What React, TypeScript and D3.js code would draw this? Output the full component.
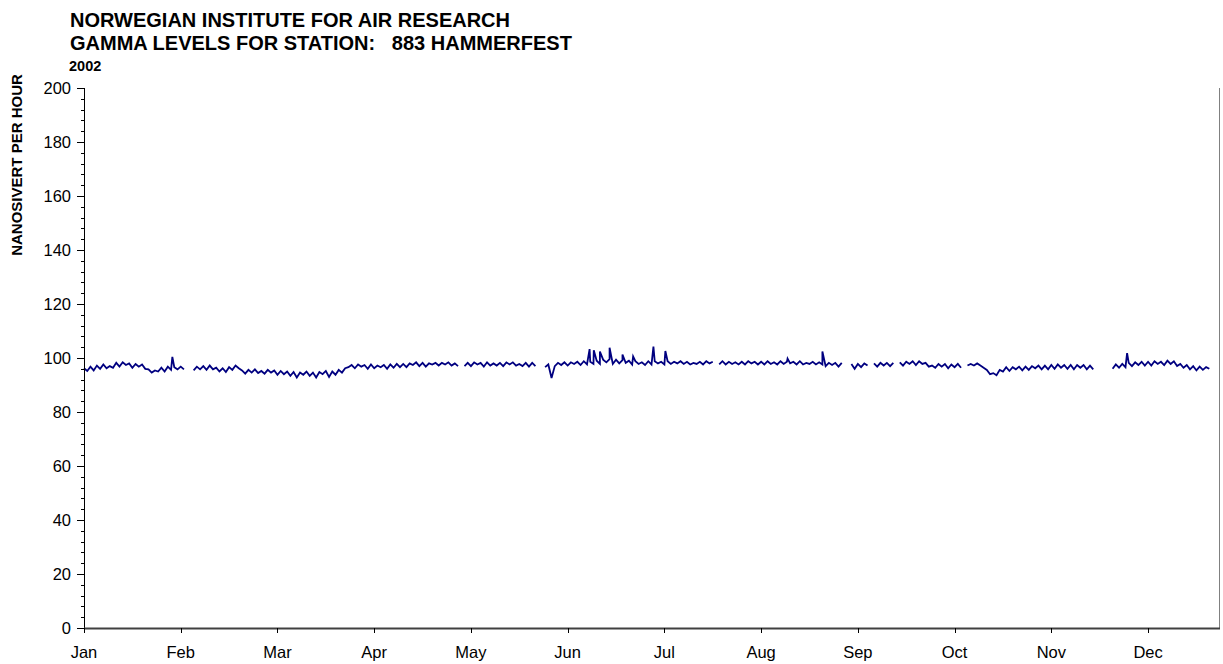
import React from "react";
import * as d3 from "d3";

const titleLines = [
  "NORWEGIAN INSTITUTE FOR AIR RESEARCH",
  "GAMMA LEVELS FOR STATION:   883 HAMMERFEST",
];
const yearLabel = "2002";
const yAxisTitle = "NANOSIVERT PER HOUR";

const months = ["Jan", "Feb", "Mar", "Apr", "May", "Jun", "Jul", "Aug", "Sep", "Oct", "Nov", "Dec"];
const monthTickDays = [0, 30, 60, 90, 120, 150, 180, 210, 240, 270, 300, 330];
const xDomain: [number, number] = [0, 352];
const yTicks = [0, 20, 40, 60, 80, 100, 120, 140, 160, 180, 200];

// daily readings (day 0 = 1 Jan), null = missing
const daily: (number | null)[] = [
  96.2, 95.2, 96.8, 95.4, 97.2, 96.0, 97.6, 96.2, 97.0, 96.4,
  98.2, 96.8, 98.4, 97.4, 98.0, 96.4, 97.8, 96.8, 97.6, 96.0,
  95.8, 94.6, 95.4, 95.0, 96.4, 95.0, 96.8, 95.6, 96.6, 95.8,
  96.8, 95.8, null, null, 95.4, 96.8, 95.8, 97.0, 95.6, 97.2,
  95.8, 96.4, 95.0, 96.2, 94.8, 96.6, 95.6, 97.2, 96.2, 95.4,
  94.2, 95.6, 94.6, 95.8, 94.4, 95.2, 94.2, 95.6, 94.6, 95.4,
  93.8, 95.2, 94.0, 95.0, 93.4, 94.8, 92.8, 94.6, 93.8, 95.0,
  93.4, 94.6, 92.8, 94.8, 94.0, 95.2, 93.0, 95.0, 93.8, 95.6,
  94.6, 96.2, 96.6, 97.4, 96.2, 97.6, 96.8, 97.4, 96.0, 97.6,
  96.2, 97.2, 96.6, 97.4, 96.0, 97.6, 96.4, 97.8, 96.6, 97.8,
  96.6, 98.0, 97.4, 98.4, 97.0, 98.2, 96.8, 98.0, 97.6, 98.2,
  97.2, 98.2, 97.6, 98.4, 97.2, 98.0, 97.0, null, 97.0, 98.2,
  97.0, 98.4, 97.6, 98.2, 96.8, 98.4, 97.2, 98.0, 97.2, 98.2,
  97.0, 98.4, 97.6, 98.4, 97.2, 97.8, 97.0, 98.2, 96.8, 98.2,
  97.0, null, null, 96.6, 97.6, 92.6, 97.0, 98.2, 97.4, 98.4,
  97.2, 98.4, 97.8, 98.6, 97.4, 98.8, 97.6, 98.6, 97.8, 99.0,
  97.8, 99.4, 98.4, 99.6, 97.8, 99.4, 98.0, 99.2, 98.2, 99.0,
  97.6, 98.8, 97.8, 98.4, 97.4, 98.8, 97.6, 98.8, 98.0, 98.6,
  97.6, 98.8, 97.8, 98.6, 98.0, 98.8, 97.8, 98.6, 97.6, 98.2,
  97.8, 98.6, 97.6, 98.8, 98.0, 98.6, null, 97.6, 98.8, 97.6,
  98.6, 97.8, 98.4, 97.6, 98.6, 97.6, 98.8, 98.0, 98.6, 97.6,
  98.6, 97.6, 98.8, 97.8, 98.4, 97.6, 98.8, 97.8, 98.6, 98.0,
  98.6, 97.6, 98.8, 97.6, 98.2, 97.8, 98.6, 97.6, 98.4, 97.6,
  97.0, 98.2, 97.4, 98.2, 96.8, 98.2, null, null, 97.8, 96.0,
  97.8, 96.6, 98.0, 97.2, null, 98.0, 96.8, 98.2, 97.2, 98.2,
  97.0, 98.2, null, 98.4, 97.2, 98.6, 97.8, 98.8, 97.4, 98.8,
  97.8, 98.2, 96.8, 97.2, 96.4, 97.8, 96.8, 97.8, 96.2, 97.6,
  96.6, 97.8, 96.4, null, 97.2, 97.8, 97.2, 98.0, 97.2, 96.4,
  95.6, 94.0, 94.4, 93.6, 95.6, 95.0, 96.6, 95.2, 96.6, 95.8,
  96.8, 95.4, 96.8, 95.6, 97.0, 96.2, 97.2, 95.8, 97.2, 95.8,
  97.4, 96.0, 97.6, 96.4, 97.4, 96.0, 97.4, 95.8, 97.4, 96.4,
  97.4, 95.8, 97.2, 95.8, null, null, null, null, null, 96.0,
  97.6, 96.4, 97.8, 96.6, 98.2, 97.0, 98.4, 97.4, 98.6, 97.2,
  98.6, 97.2, 98.8, 97.8, 98.6, 97.4, 99.0, 97.8, 98.8, 97.0,
  97.8, 96.4, 97.4, 95.8, 97.0, 95.4, 96.8, 95.6, 96.6, 96.0,
];

// short peaks between daily readings: [day, value]
const peaks: [number, number][] = [
  [27.4, 100.4], [156.8, 103.3], [158.1, 102.9], [160.0, 102.4],
  [163.0, 103.8], [167.0, 101.3], [170.3, 100.6], [176.6, 104.2], [180.3, 102.6],
  [218.2, 99.8], [229.0, 102.4], [323.5, 101.8],
];

const W = 1223;
const H = 664;
const M = { left: 84, right: 1219, top: 88, bottom: 628 };
const FONT = "'Liberation Sans', Arial, sans-serif";
const LINE_COLOR = "#000080";

export default function App() {
  const x = d3.scaleLinear().domain(xDomain).range([M.left, M.right]);
  const y = d3.scaleLinear().domain([0, 200]).range([M.bottom, M.top]);

  const pts: [number, number | null][] = daily.map((v, i) => [i, v] as [number, number | null]);
  peaks.forEach((p) => pts.push([p[0], p[1]]));
  pts.sort((a, b) => a[0] - b[0]);
  const line = d3
    .line<[number, number | null]>()
    .defined((d) => d[1] !== null)
    .x((d) => x(d[0]))
    .y((d) => y(d[1] as number));
  const path = line(pts) || "";

  const minorTicks = d3.range(0, 201, 4).filter((v) => v % 20 !== 0);

  return (
    <svg
      width={W}
      height={H}
      style={{ position: "absolute", left: 0, top: 0, background: "#fff" }}
      fontFamily={FONT}
    >
      <rect x={0} y={0} width={W} height={H} fill="#fff" />
      {/* titles */}
      <text x={70} y={27} fontSize={20} fontWeight="bold" fill="#000">
        {titleLines[0]}
      </text>
      <text x={70} y={50} fontSize={20} fontWeight="bold" fill="#000" style={{ whiteSpace: "pre" }}>
        {titleLines[1]}
      </text>
      <text x={69} y={71} fontSize={14.5} fontWeight="bold" fill="#000">
        {yearLabel}
      </text>
      {/* y axis title */}
      <text
        transform={`translate(22,${165}) rotate(-90)`}
        textAnchor="middle"
        fontSize={15}
        fontWeight="bold"
        fill="#000"
      >
        {yAxisTitle}
      </text>

      {/* plot border (right) */}
      <line x1={M.right + 0.5} x2={M.right + 0.5} y1={M.top} y2={M.bottom} stroke="#808080" strokeWidth={1} />

      {/* data */}
      <path d={path} fill="none" stroke={LINE_COLOR} strokeWidth={1.8} strokeLinejoin="miter" />

      {/* y axis */}
      <line x1={M.left + 0.5} x2={M.left + 0.5} y1={M.top} y2={M.bottom} stroke="#000" strokeWidth={1} />
      {minorTicks.map((v) => (
        <line key={"mn" + v} x1={M.left - 3} x2={M.left + 0.5} y1={Math.round(y(v)) + 0.5} y2={Math.round(y(v)) + 0.5} stroke="#000" />
      ))}
      {yTicks.map((v) => (
        <g key={"yt" + v}>
          <line x1={M.left - 7} x2={M.left + 0.5} y1={Math.round(y(v)) + 0.5} y2={Math.round(y(v)) + 0.5} stroke="#000" />
          <text x={71} y={y(v) + 6} textAnchor="end" fontSize={16.5} fill="#000">
            {v}
          </text>
        </g>
      ))}

      {/* x axis */}
      <line x1={M.left} x2={M.right + 1} y1={M.bottom + 0.5} y2={M.bottom + 0.5} stroke="#404040" strokeWidth={2} />
      {monthTickDays.map((d, i) => (
        <g key={"xt" + d}>
          <line x1={Math.round(x(d)) + 0.5} x2={Math.round(x(d)) + 0.5} y1={M.bottom} y2={M.bottom + 5} stroke="#000" />
          <text x={x(d)} y={M.bottom + 30} textAnchor="middle" fontSize={16.5} fill="#000">
            {months[i]}
          </text>
        </g>
      ))}
    </svg>
  );
}
